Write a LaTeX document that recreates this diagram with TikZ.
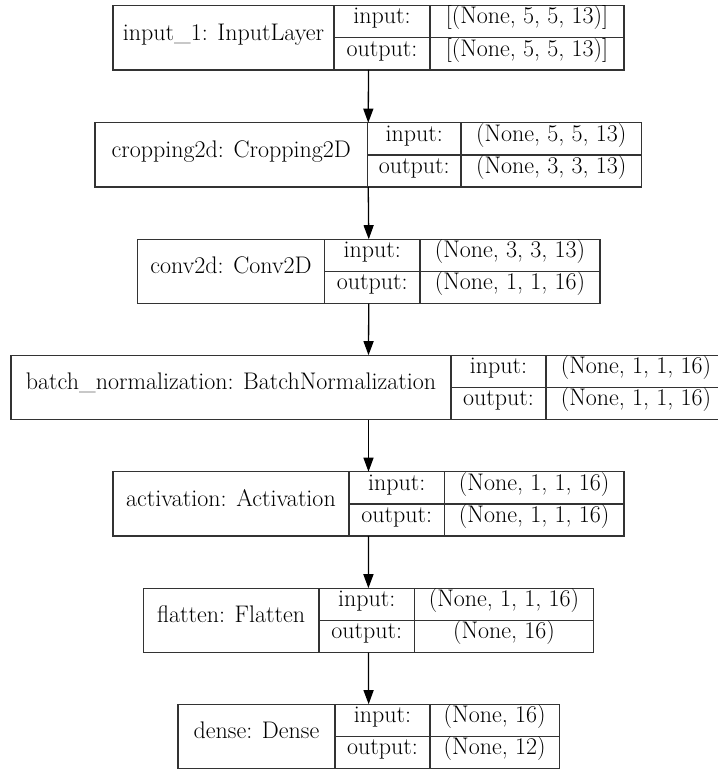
\documentclass[tikz,border=0pt]{standalone}
\usepackage{fontspec}
\usetikzlibrary{arrows.meta}
\tikzset{
  boxframe/.style={draw=black!80, line width=1.3pt, inner sep=0pt, outer sep=0pt, anchor=north west},
  boxline/.style={draw=black!80, line width=1.3pt},
  txt/.style={inner sep=0pt, text height=0.7em, text depth=0.245em, font=\fontsize{24}{28}\selectfont, text=black},
  flow/.style={draw=black, line width=1.3pt, -{Triangle[length=14pt, width=10pt]}}
}
% #1 name, #2 top, #3 left, #4 first divider, #5 second divider, #6 right,
% #7 layer title, #8 input shape, #9 output shape
\newcommand\layerbox[9]{%
  \node[boxframe, minimum width={#6-#3}, minimum height=64.3] (#1) at (#3,#2) {};
  \draw[boxline] (#4,#2) -- (#4,{#2+64.3});
  \draw[boxline] (#5,#2) -- (#5,{#2+64.3});
  \draw[boxline] (#4,{#2+32.15}) -- (#6,{#2+32.15});
  \node[txt] (#1-title) at ({(#3+#4)/2},{#2+32.15}) {#7};
  \node[txt] (#1-inlabel) at ({(#4+#5)/2},{#2+16.1}) {input:};
  \node[txt] (#1-outlabel) at ({(#4+#5)/2},{#2+48.2}) {output:};
  \node[txt] (#1-in) at ({(#5+#6)/2},{#2+16.1}) {#8};
  \node[txt] (#1-out) at ({(#5+#6)/2},{#2+48.2}) {#9};
}
\begin{document}
\begin{tikzpicture}[x=1pt, y=-1pt]
  \useasboundingbox (0,0) rectangle (718,769);
  \fill[white] (0,0) rectangle (718,769);
  \layerbox{l1}{5.6}{113}{334}{430}{624}{input\_1: InputLayer}{[(None, 5, 5, 13)]}{[(None, 5, 5, 13)]}
  \layerbox{l2}{122.7}{95}{367.5}{461}{641.5}{cropping2d: Cropping2D}{(None, 5, 5, 13)}{(None, 3, 3, 13)}
  \layerbox{l3}{239.2}{137.5}{324.5}{420}{600}{conv2d: Conv2D}{(None, 3, 3, 13)}{(None, 1, 1, 16)}
  \layerbox{l4}{355.2}{11}{451}{546}{726}{batch\_normalization: BatchNormalization}{(None, 1, 1, 16)}{(None, 1, 1, 16)}
  \layerbox{l5}{471.7}{113}{349}{444.3}{624}{activation: Activation}{(None, 1, 1, 16)}{(None, 1, 1, 16)}
  \layerbox{l6}{588.2}{143.3}{319}{414.5}{593.5}{flatten: Flatten}{(None, 1, 1, 16)}{(None, 16)}
  \layerbox{l7}{704.2}{178}{335}{430}{559.3}{dense: Dense}{(None, 16)}{(None, 12)}
  \draw[flow] (l1.south) -- (l2.north);
  \draw[flow] (l2.south) -- (l3.north);
  \draw[flow] (l3.south) -- (l4.north);
  \draw[flow] (l4.south) -- (l5.north);
  \draw[flow] (l5.south) -- (l6.north);
  \draw[flow] (l6.south) -- (l7.north);
\end{tikzpicture}
\end{document}
